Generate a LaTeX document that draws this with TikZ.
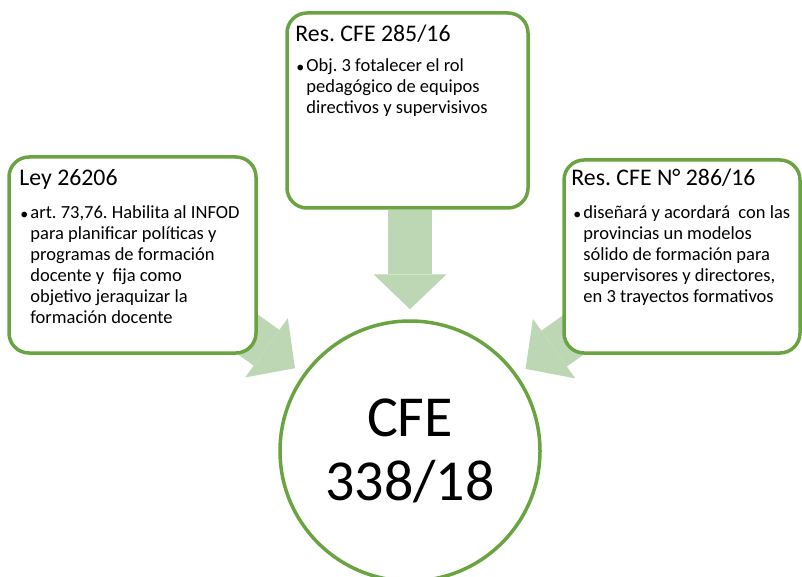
\documentclass[tikz,border=0pt]{standalone}
\usepackage{fontspec}
\setmainfont{Carlito}
\frenchspacing
\usetikzlibrary{positioning,
	arrows.meta,
	backgrounds}
\definecolor{boxgreen}{RGB}{106,164,66}
\definecolor{arrowgreen}{RGB}{189,215,181}
\tikzset{
	docbox/.style={draw=boxgreen, line width=3.5pt, rounded corners=20pt, fill=white, inner sep=0pt},
	doctitle/.style={anchor=base west, inner sep=0pt, font=\fontsize{23.8}{28}\selectfont},
	docbullet/.style={anchor=base west, inner sep=0pt, font=\fontsize{16}{20}\selectfont},
	docbody/.style={anchor=north west, inner sep=0pt, align=left, font=\fontsize{18.5}{21}\selectfont},
	flowarrow/.style={arrowgreen, line width=44pt, shorten >=10pt,
		-{Triangle[length=35pt, width=73pt, line width=0pt]}}
}

\begin{document}
\begin{tikzpicture}[x=1pt, y=-1pt]
            \useasboundingbox (0, 0) rectangle (802, 577);

            \node[docbox, minimum width=247pt, minimum height=196pt] (ley) at (132.5, 255) {};
            \node[docbox, minimum width=241pt, minimum height=195pt] (res285) at (407.5, 110.5) {};
            \node[docbox, minimum width=236pt, minimum height=193pt] (res286) at (682, 256.5) {};
            \node[circle, draw=boxgreen, line width=3.5pt, fill=white, inner sep=0pt, minimum size=260pt,
                  align=center, font=\fontsize{58}{64}\selectfont] (cfe) at (410, 451) {CFE\\338/18};

            \node[doctitle] (leytitle) at ([xshift=12pt, yshift=-30pt]ley.north west) {Ley 26206};
            \node[docbullet] (leybullet) at ([xshift=13pt, yshift=-64pt]ley.north west) {\textbullet};
            \node[docbody] (leybody) at ([xshift=23pt, yshift=-50pt]ley.north west)
                {art. 73,76. Habilita al INFOD\\para planificar políticas y\\programas de formación\\docente y\ \ fija como\\objetivo jeraquizar la\\formación docente};

            \node[doctitle] (res285title) at ([xshift=10pt, yshift=-30pt]res285.north west) {Res. CFE 285/16};
            \node[docbullet] (res285bullet) at ([xshift=11pt, yshift=-61pt]res285.north west) {\textbullet};
            \node[docbody] (res285body) at ([xshift=21pt, yshift=-47pt]res285.north west)
                {Obj. 3 fotalecer el rol\\pedagógico de equipos\\directivos y supervisivos};

            \node[doctitle] (res286title) at ([xshift=9pt, yshift=-27pt]res286.north west) {Res. CFE N° 286/16};
            \node[docbullet] (res286bullet) at ([xshift=11pt, yshift=-61pt]res286.north west) {\textbullet};
            \node[docbody] (res286body) at ([xshift=21pt, yshift=-47pt]res286.north west)
                {diseñará y acordará\ \ con las\\provincias un modelos\\sólido de formación para\\supervisores y directores,\\en 3 trayectos formativos};

            \coordinate (leytail) at (214, 310);
            \coordinate (res286tail) at (607, 311);
            \begin{scope}[on background layer]
                \draw[flowarrow] (cfe |- res285.south) -- (cfe);
                \draw[flowarrow] (leytail) -- (cfe);
                \draw[flowarrow] (res286tail) -- (cfe);
            \end{scope}
        \end{tikzpicture}
\end{document}
